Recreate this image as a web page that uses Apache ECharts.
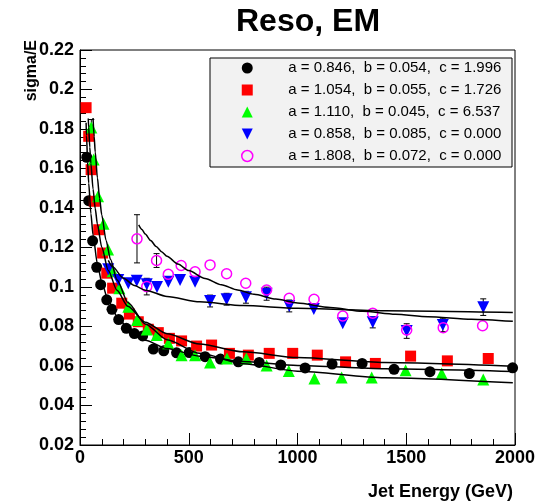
<!DOCTYPE html>
<html><head><meta charset="utf-8">
<script src="https://cdn.jsdelivr.net/npm/echarts@6/dist/echarts.min.js"></script>
<style>html,body{margin:0;padding:0;background:#fff}#c{width:540px;height:504px}</style>
</head><body><div id="c"></div>
<script>
const titleText = 'Reso, EM';
const xTitle = 'Jet Energy (GeV)';
const yTitle = 'sigma/E';
const xTicks = [0, 500, 1000, 1500, 2000];
const yTicks = [0.02, 0.04, 0.06, 0.08, 0.1, 0.12, 0.14, 0.16, 0.18, 0.2, 0.22];
const legendLabels = [
  'a = 0.846,  b = 0.054,  c = 1.996',
  'a = 1.054,  b = 0.055,  c = 1.726',
  'a = 1.110,  b = 0.045,  c = 6.537',
  'a = 0.858,  b = 0.085,  c = 0.000',
  'a = 1.808,  b = 0.072,  c = 0.000'
];

// black circles
const blackE = [31,40,58,77,95,123,147,178,213,250,288,337,385,444,502,575,646,728,824,923,1035,1159,1297,1444,1609,1790,1989];
const blackV = [0.1657,0.1437,0.1234,0.1100,0.1012,0.0935,0.0887,0.0835,0.0791,0.0764,0.0752,0.0686,0.0677,0.0667,0.0668,0.0647,0.0635,0.0621,0.0618,0.0605,0.0590,0.0610,0.0613,0.0583,0.0571,0.0562,0.0591];
const blackErr = [0.002,0.002,0.0015,0.0015,0.001,0.001,0.001,0.001,0.001,0.001,0.001,0.001,0.001,0.001,0.001,0.001,0.001,0.001,0.001,0.001,0.001,0.001,0.001,0.001,0.001,0.001,0.001];
// red squares
const redE = [28,40,51,66,86,104,123,150,192,227,268,314,360,411,467,536,605,687,774,870,978,1091,1221,1358,1520,1689,1877];
const redV = [0.1908,0.1763,0.1594,0.1434,0.1290,0.1172,0.1070,0.0994,0.0918,0.0863,0.0824,0.0786,0.0769,0.0740,0.0727,0.0701,0.0706,0.0664,0.0655,0.0664,0.0664,0.0655,0.0621,0.0613,0.0650,0.0626,0.0638];
const redErr = [0.002,0.002,0.002,0.0015,0.0015,0.0015,0.001,0.001,0.001,0.001,0.001,0.001,0.001,0.001,0.001,0.001,0.001,0.001,0.001,0.001,0.001,0.001,0.001,0.001,0.001,0.001,0.001];
// green triangles
const greenE = [52,63,83,108,129,150,181,222,262,307,353,406,467,529,598,676,765,858,960,1078,1203,1341,1497,1663,1854];
const greenV = [0.1808,0.1645,0.1460,0.1320,0.1190,0.1080,0.0994,0.0900,0.0833,0.0785,0.0757,0.0715,0.0655,0.0655,0.0618,0.0638,0.0638,0.0602,0.0575,0.0537,0.0542,0.0542,0.0579,0.0562,0.0532];
const greenErr = [0.004,0.002,0.002,0.0015,0.0015,0.0015,0.001,0.001,0.001,0.001,0.001,0.001,0.001,0.001,0.001,0.001,0.001,0.001,0.001,0.001,0.001,0.001,0.001,0.001,0.001];
// blue inverted triangles
const blueE = [130,176,222,261,307,354,406,460,529,598,674,763,858,962,1075,1208,1346,1502,1668,1854];
const blueV = [0.1090,0.1036,0.1019,0.1032,0.1014,0.1000,0.1027,0.1036,0.1027,0.0929,0.0938,0.0948,0.0966,0.0904,0.0888,0.0816,0.0821,0.0777,0.0808,0.0898];
const blueErr = [0.002,0.002,0.002,0.002,0.002,0.002,0.002,0.002,0.002,0.003,0.003,0.003,0.0033,0.003,0.0025,0.0022,0.0028,0.0037,0.0034,0.0042];
// magenta open circles
const magE = [262,307,352,406,465,529,598,674,762,858,962,1076,1208,1346,1502,1670,1851];
const magV = [0.1244,0.1002,0.1134,0.1064,0.1109,0.1077,0.1112,0.1067,0.1019,0.0985,0.0943,0.0938,0.0853,0.0867,0.0782,0.0794,0.0804];
const magErr = [0.0122,0.0042,0.0035,0.002,0.002,0.002,0.002,0.002,0.002,0.002,0.002,0.002,0.002,0.002,0.002,0.002,0.002];

// fit curves
const fitBlackE = [28,30,35,40,50,60,80,100,130,170,220,300,400,550,750,1000,1400,1990];
const fitBlackV = [0.1832,0.1767,0.1632,0.1526,0.1372,0.1263,0.1117,0.1023,0.0930,0.0852,0.0791,0.0731,0.0688,0.0650,0.0623,0.0603,0.0586,0.0572];
const fitRedE = [38,40,45,50,60,70,80,100,130,170,220,300,400,550,750,1000,1400,1990];
const fitRedV = [0.1853,0.1807,0.1708,0.1626,0.1496,0.1397,0.1318,0.1201,0.1084,0.0983,0.0902,0.0822,0.0763,0.0711,0.0672,0.0643,0.0618,0.0599];
const fitGreenE = [60,65,70,80,90,100,120,140,170,220,300,400,550,750,1000,1400,1990];
const fitGreenV = [0.1856,0.1763,0.1684,0.1553,0.1449,0.1365,0.1235,0.1140,0.1037,0.0922,0.0813,0.0733,0.0664,0.0612,0.0574,0.0541,0.0515];
const fitBlueE = [130,150,200,250,300,400,550,750,1000,1400,1990];
const fitBlueV = [0.1135,0.1102,0.1044,0.1008,0.0984,0.0952,0.0925,0.0906,0.0892,0.0880,0.0871];
const fitMagE = [270,285,300,325,350,375,400,450,500,575,650,725,800,900,1000,1150,1300,1450,1600,1800,1990];
const fitMagV = [0.1315,0.1291,0.1268,0.1235,0.1205,0.1179,0.1156,0.1116,0.1083,0.1043,0.1011,0.0985,0.0963,0.0939,0.0919,0.0896,0.0877,0.0862,0.0850,0.0837,0.0826];

const FONT = '"Liberation Sans", Arial, Helvetica, sans-serif';
const pts = (E, V) => E.map((e, i) => [e, V[i]]);
const errPts = (E, V, R) => E.map((e, i) => [e, V[i], R[i]]);

function renderErr(params, api) {
  const x = api.value(0), y = api.value(1), r = api.value(2);
  const t = api.coord([x, y + r]), b = api.coord([x, y - r]);
  if (Math.abs(b[1] - t[1]) < 10) return null; // hidden inside the marker
  const cap = 3, st = {stroke: '#000', lineWidth: 1};
  return {type: 'group', children: [
    {type: 'line', shape: {x1: t[0], y1: t[1], x2: b[0], y2: b[1]}, style: st},
    {type: 'line', shape: {x1: t[0] - cap, y1: t[1], x2: t[0] + cap, y2: t[1]}, style: st},
    {type: 'line', shape: {x1: b[0] - cap, y1: b[1], x2: b[0] + cap, y2: b[1]}, style: st}
  ]};
}

const markers = [
  {E: blackE, V: blackV, R: blackErr, symbol: 'circle', size: 11, style: {color: '#000000', opacity: 1}},
  {E: redE, V: redV, R: redErr, symbol: 'path://M0,0L10,0L10,10L0,10Z', size: 11, style: {color: '#ff0000', opacity: 1}},
  {E: greenE, V: greenV, R: greenErr, symbol: 'path://M5,0L10,10L0,10Z', size: 12, style: {color: '#00ff00', opacity: 1}},
  {E: blueE, V: blueV, R: blueErr, symbol: 'path://M0,0L10,0L5,10Z', size: 12, style: {color: '#0000ff', opacity: 1}},
  {E: magE, V: magV, R: magErr, symbol: 'circle', size: 10, style: {color: 'rgba(0,0,0,0)', borderColor: '#ff00ff', borderWidth: 1.5, opacity: 1}}
];
const fits = [[fitBlackE, fitBlackV], [fitRedE, fitRedV], [fitGreenE, fitGreenV], [fitBlueE, fitBlueV], [fitMagE, fitMagV]];

const series = [];
markers.forEach((m, i) => {
  series.push({type: 'custom', name: 'err' + i, renderItem: renderErr, data: errPts(m.E, m.V, m.R),
    encode: {x: 0, y: 1}, z: 1, silent: true});
});
markers.forEach((m, i) => {
  series.push({type: 'scatter', name: legendLabels[i], data: pts(m.E, m.V), symbol: m.symbol,
    symbolSize: m.size, itemStyle: m.style, z: 3, silent: true});
});
fits.forEach((f, i) => {
  series.push({type: 'line', name: 'fit' + i, data: pts(f[0], f[1]), showSymbol: false, symbol: 'none',
    smooth: 0.25, smoothMonotone: 'x', lineStyle: {color: '#000', width: 1.5}, z: 5, silent: true});
});

const chart = echarts.init(document.getElementById('c'), null, {renderer: 'canvas'});
chart.setOption({
  animation: false,
  backgroundColor: '#ffffff',
  title: {text: titleText, left: 231, top: 1, textStyle: {fontFamily: FONT, fontSize: 32, fontWeight: 'bold', color: '#000'}},
  grid: {left: 80, right: 25, top: 50, bottom: 59, show: true, borderColor: '#000', borderWidth: 1, backgroundColor: 'transparent'},
  legend: {
    left: 241, top: 59, padding: 0, orient: 'vertical', itemWidth: 12, itemHeight: 11, itemGap: 4,
    symbolKeepAspect: true,
    textStyle: {fontFamily: FONT, fontSize: 15, color: '#000', lineHeight: 18, padding: [0, 0, 0, 30]},
    data: legendLabels.map((n, i) => ({name: n, icon: markers[i].symbol, itemStyle: markers[i].style})),
    selectedMode: false
  },
  xAxis: {
    type: 'value', min: xTicks[0], max: xTicks[xTicks.length - 1], interval: 500,
    name: xTitle, nameLocation: 'end', nameGap: -2,
    nameTextStyle: {fontFamily: FONT, fontSize: 18, fontWeight: 'bold', color: '#000', align: 'right', verticalAlign: 'top', padding: [38, 0, 0, 0]},
    axisLine: {show: true, onZero: false, lineStyle: {color: '#000', width: 1}},
    axisTick: {show: true, inside: true, length: 12, lineStyle: {color: '#000'}},
    minorTick: {show: true, splitNumber: 5, length: 6, lineStyle: {color: '#000'}},
    splitLine: {show: false},
    axisLabel: {fontFamily: FONT, fontSize: 18, fontWeight: 'bold', color: '#000', margin: 4,
      formatter: v => String(v)}
  },
  yAxis: {
    type: 'value', min: yTicks[0], max: yTicks[yTicks.length - 1], interval: 0.02,
    axisLine: {show: true, onZero: false, lineStyle: {color: '#000', width: 1}},
    axisTick: {show: true, inside: true, length: 12, lineStyle: {color: '#000'}},
    minorTick: {show: true, splitNumber: 5, length: 6, lineStyle: {color: '#000'}},
    splitLine: {show: false},
    axisLabel: {fontFamily: FONT, fontSize: 18, fontWeight: 'bold', color: '#000', margin: 6,
      formatter: v => String(Math.round(v * 100) / 100)}
  },
  graphic: [
    {type: 'rect', shape: {x: 210, y: 58, width: 302, height: 109}, style: {fill: '#f2f2f2', stroke: '#000', lineWidth: 1}, z: 0, silent: true},
    {type: 'text', x: 32, y: 40, rotation: Math.PI / 2, style: {text: yTitle, font: 'bold 16px ' + FONT, fill: '#000', align: 'right', verticalAlign: 'middle'}, silent: true}
  ],
  series: series
});
</script></body></html>
